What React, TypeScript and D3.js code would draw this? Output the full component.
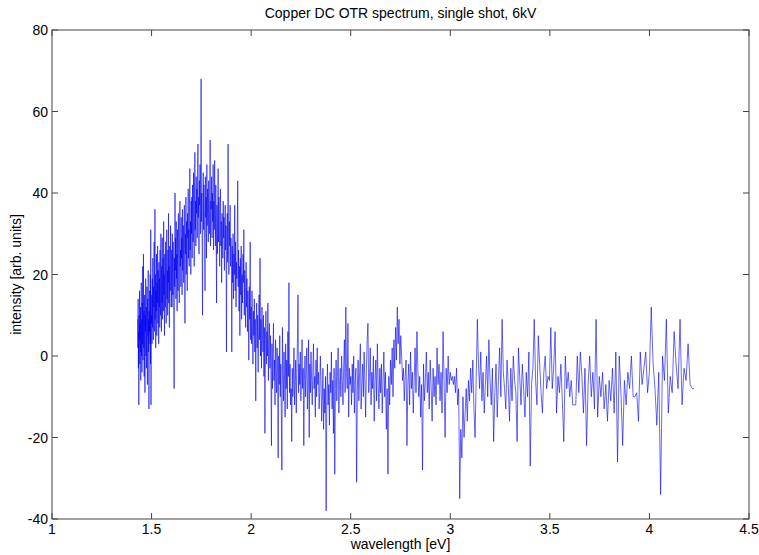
import React from "react";
import * as d3 from "d3";

// Spectrometer grid: samples evenly spaced in wavelength (nm), plotted in eV
const lambdaStartNm = 867;
const lambdaEndNm = 293.5;

const xTicks = [1, 1.5, 2, 2.5, 3, 3.5, 4, 4.5];
const yTicks = [-40, -20, 0, 20, 40, 60, 80];

const seg1 = [9, 2, 14, -3, 6, -12, 10, 4, 16, -2, 8, 1, 12, -6, 5, 18, 0, 9, -4, 13, 3, 22, -1, 7, 25, 2, 11, -5, 15, 4, -9, 10, 6, 19, 0, 12, -3, 8, 17, 2, -7, 14, 5, 21, 1, 9, -13, 11, 6, 16, 3, 20, -2, 31, -12, 10];
const seg2 = [8, 15, 3, 19, 7, 24, 10, 4, 17, 12, 28, 6, 14, 36, 9, 20, 2, 16, 11, 25, 5, 18, 13, 27, 8, 21, 15, 3, 23, 12, 19, 7, 26, 14, 10, 30, 16, 6, 22, 13, 29, 9, 18, 24, 11, 33, 15, 20, 5, 25, 17, 12, 28, 19, 8, 23, 31, 14, 21, 10, 26, 18, 35, 13, 22, 7, 27, 20, 16, 32, 24, 12];
const seg3 = [18, 26, 12, 30, 20, 15, 28, 22, 10, -8, 24, 17, 40, 21, 29, 14, 33, 19, 25, 11, 31, 23, 16, 35, 27, 20, 13, 30, 38, 22, 26, 17, 34, 24, 29, 15, 36, 21, 27, 32, 18, 28, 37, 23, 8, 30, 25, 39, 20, 33, 27, 16, 35, 29, 41, 24, 31, 22, 37, 46, 26, 33, 20, 38];
const seg4 = [30, 39, 24, 42, 33, 28, 45, 36, 22, 40, 50, 31, 38, 27, 44, 35, 41, 29, 46, 52, 34, 39, 25, 43, 37, 47, 30, 41, 68, 33, 40, 26, 10, 38, 45, 31, 42, 36, 29, 16, 44, 34, 39, 24, 47, 32, 41, 37, 28, 43, 35, 30, 40, 53, 27, 38];
const seg5 = [36, 44, 29, 40, 33, 47, 26, 38, 31, 48, 35, 27, 42, 30, 13, 37, 25, 34, 46, 28, 39, 32, 22, 36, 41, 27, 33, 18, 35, 30, 24, 38, 29, 34, 21, 31, 37, 26, 32, 1, 28, 35, 23, 52, 30, 20, 33, 27, 37, 22, 29];
const seg6 = [24, 1, 27, 18, 30, 14, 25, 20, 37, 16, 28, 12, 23, 19, 31, 43, 17, 26, 11, 22, 5, 24, 15, 27, 9, 20, 13, 25, 18, 31, 10, 21, 14, 7, 23, 12, 19, 6, 16, 11, -1, 17, 9, 28, 4];
const seg7 = [12, 3, 16, 7, -2, 11, 5, 14, 1, 9, -11, 8, 13, 2, 10, -4, 6, 15, 4, 24, 0, 9, -3, 12, 5, 1, 10, -5, 7, -19, 3, 11, -2, 6, 0, 13, -6, 4, 8, -3, 5];
const seg8 = [-4, -22, 3, -8, 1, 8, -6, -1, -12, 4, -3, -9, 2, -5, -25, 0, -7, 5, -10, -2, -14, -28, 7, -4, -11, 1, -6, -15, 3, -8, -1, -13, 6, -5, 18, -9, -2, -12];
const seg9 = [-8, -21, -3, -10, -5, 2, -12, -6, -1, -14, -4, 3, 15, -9, -2, -7, 1, -11, -5, 4, -8, -3, -22, -6, 0, -10, -4, 2, -13, -7, 4, -20, -2, -9, 1, -6, -12, -3, 3, -8, -5, -15, -1, -10, 2, -7, -4, -13, -9, 0, -6, -16, -11, -3, -18, -8, -14, -5, -38, -10, -2, -12, -7, -17, -4, -9, 1, -13, -6, -19, -3, -29, -8, -1, -11, -5, 2, -14, -7, -3, -10, 0, -6, -12, -2, 4, -9, 12, -4, -8, 8, -15, -3, -7];
const seg10 = [-5, -12, -2, -9, 0, -14, -6, -3, -31, -8, -1, -11, -4, 3, -13, -7, -2, -10, 1, -6, -15, -3, 4, 8, -9, -5, 2, -12, -4, -8, 0, -16, -6, -1, -11, 3, -7, -13, -3, -9, -2, -14, -6, 1, -10, -4, -18, -8, -29, -5, -12, -1, -7, 2, -10, 4, -3, 7, -1, 12, 3, 9, -2, 5, 0, -6, -3, -11, -5, -1, -22, -7, -2, -12, 1, -8, -4, -14, -6, 2, -9, 6, -3, -10, -5, -15, -7, -28, -2, -11, -6, 1, -9, -4, -13, -1, -8, -16, -3, -10, -5, -12, 2, -7, -2, -11, -4, -14, 6, -6, -20, -3, -9, 0, -7];
const seg11 = [-4, -6, -5, -7, -5, -9, -3, -12, -8, -35, -18, -25, -10, -20, -14, -8, -16, -6, -11, -3, -9, -1, -13, -20, -5, 9, -2, -8, 1, -11, -4, -14, -7, 0, -10, 4, -6, -12, -3, -21, -9, -2, -15, -6, 2, -10, 9, -4, -8, -13, -1, -7, -16, -3, -11, 0, -6, -9, -21, 2, -5, -12, -2, -8, -15, -4, -10, 1, -27, -7, -3, 9, -6, -12, 5, -2, -9, -14, -4, 0, -8, -5];
const seg12 = [-6, 7, -8, -3, 6, -14, -5, -9, -2, -11, -21, 0, -8, -4, -10, -6, -12, -12, -12, 0, -9, 1, -5, -14, -3, -22, -7, 0, -10, -4, -13, 9, -15, -5, -10, -4, -13, -7, -16, -6, -11, -3, -14, 1, -26, 0, -9, -22, -6, -12, -4, -8, 0, -10, -10, -9, -16, 1, -7, -3, 1, -9, -4, 12, -2, -8, -17, -4, -34, 0, -6, 9, -14, -5, -9, 6, -2, -8, 9, -12, -3, -6, 3, -7, -8, -8];

const intensity: number[] = [
  ...seg1, ...seg2, ...seg3, ...seg4, ...seg5, ...seg6,
  ...seg7, ...seg8, ...seg9, ...seg10, ...seg11, ...seg12,
];

const W = 759;
const H = 555;
const M = { left: 52, right: 749, top: 30, bottom: 519 };
const FONT = "'Liberation Sans', Arial, Helvetica, sans-serif";

export default function App() {
  const n = intensity.length;
  const lambdas = d3.range(n).map(
    (i) => lambdaStartNm + (i * (lambdaEndNm - lambdaStartNm)) / (n - 1)
  );
  const pts: [number, number][] = intensity.map((v, i) => [1240 / lambdas[i], v]);

  const x = d3.scaleLinear().domain([1, 4.5]).range([M.left, M.right]);
  const y = d3.scaleLinear().domain([-40, 80]).range([M.bottom, M.top]);

  const line = d3
    .line<[number, number]>()
    .x((d) => x(d[0]))
    .y((d) => y(d[1]));

  const tickLen = 6;
  const axisColor = "#444";

  return (
    <svg
      width={W}
      height={H}
      style={{ position: "absolute", left: 0, top: 0, background: "#fff" }}
      fontFamily={FONT}
    >
      <rect x={0} y={0} width={W} height={H} fill="#fff" />
      <path d={line(pts) || ""} fill="none" stroke="#0000ee" strokeWidth={0.6} />
      <rect
        x={M.left}
        y={M.top}
        width={M.right - M.left}
        height={M.bottom - M.top}
        fill="none"
        stroke={axisColor}
        strokeWidth={1}
      />
      {xTicks.map((t) => (
        <g key={"x" + t}>
          <line x1={x(t)} x2={x(t)} y1={M.bottom} y2={M.bottom - tickLen} stroke={axisColor} />
          <line x1={x(t)} x2={x(t)} y1={M.top} y2={M.top + tickLen} stroke={axisColor} />
          <text x={x(t)} y={M.bottom + 15} fontSize={14} textAnchor="middle" fill="#000">
            {String(t)}
          </text>
        </g>
      ))}
      {yTicks.map((t) => (
        <g key={"y" + t}>
          <line x1={M.left} x2={M.left + tickLen} y1={y(t)} y2={y(t)} stroke={axisColor} />
          <line x1={M.right} x2={M.right - tickLen} y1={y(t)} y2={y(t)} stroke={axisColor} />
          <text x={M.left - 4} y={y(t) + 5} fontSize={14} textAnchor="end" fill="#000">
            {String(t)}
          </text>
        </g>
      ))}
      <text x={(M.left + M.right) / 2} y={18} fontSize={14} textAnchor="middle" fill="#000">
        Copper DC OTR spectrum, single shot, 6kV
      </text>
      <text x={(M.left + M.right) / 2} y={549} fontSize={14} textAnchor="middle" fill="#000">
        wavelength [eV]
      </text>
      <text
        transform={`translate(21, ${(M.top + M.bottom) / 2}) rotate(-90)`}
        fontSize={14}
        textAnchor="middle"
        fill="#000"
      >
        intensity [arb. units]
      </text>
    </svg>
  );
}
